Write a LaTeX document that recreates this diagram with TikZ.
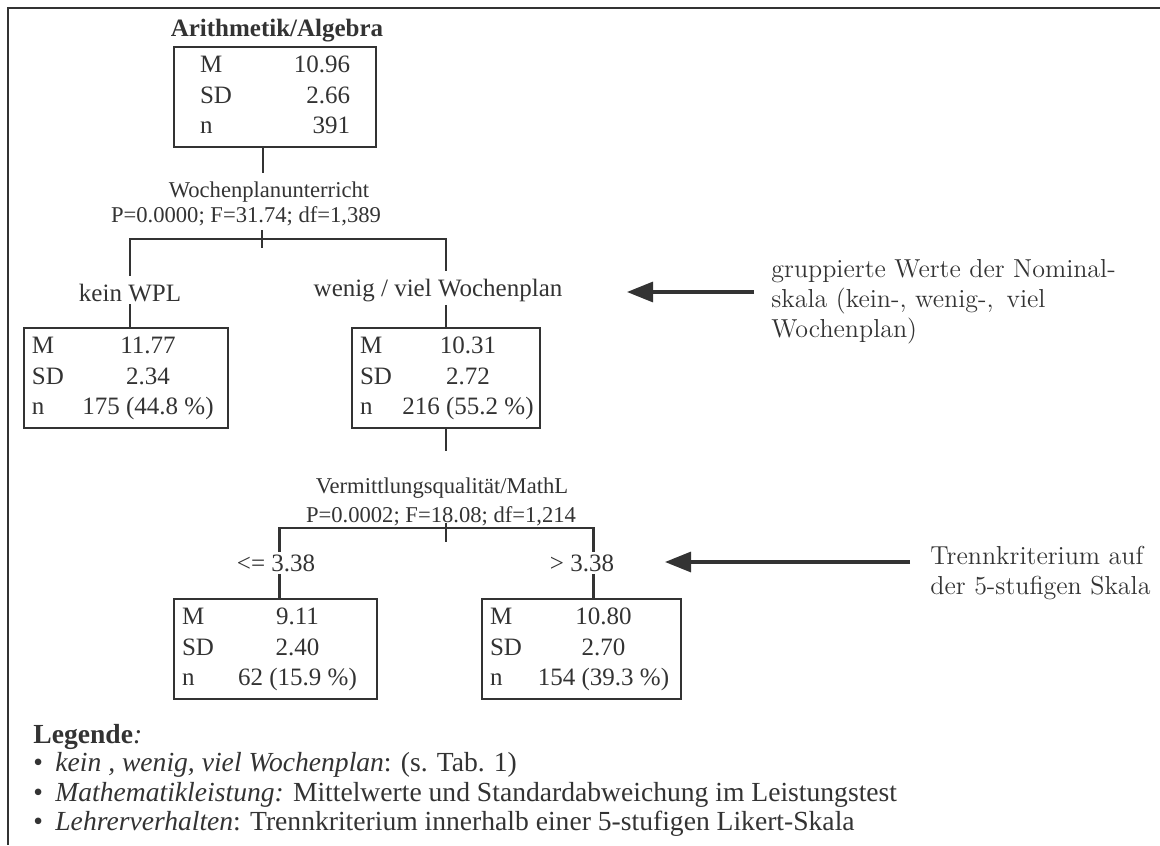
\documentclass[tikz,border=0pt]{standalone}
\usepackage{fontspec}
\setmainfont{Liberation Serif}
\newfontfamily\annfont{Latin Modern Roman}
\usepackage{array}
\usetikzlibrary{arrows.meta}

\definecolor{ink}{gray}{0.2}

% M / SD / n rows of a box
\newcommand{\stats}[5]{%
  \begin{tabular}{@{}w{l}{22pt}@{}w{#1}{#2}@{}}
  M & #3\\ SD & #4\\ n & #5
  \end{tabular}}

\tikzset{
  statbox/.style={draw=ink, line width=1.3pt, inner xsep=4pt, inner ysep=2pt, minimum height=50pt, font=\fontsize{12.5}{15.25}\selectfont},
  branch/.style={font=\fontsize{12.5}{15}\selectfont, inner sep=1pt},
  split/.style={font=\fontsize{11.3}{13}\selectfont, inner sep=1pt},
  tree/.style={draw=ink, line width=1.4pt},
  note/.style={font=\annfont\fontsize{13}{15}\selectfont, align=left, anchor=west, inner sep=0pt},
  legendrow/.style={font=\fontsize{13.8}{16}\selectfont, anchor=west, inner sep=0pt},
  pointer/.style={draw=ink, line width=1.6pt, -{Triangle[length=13pt,width=10pt]}},
}

\begin{document}
\begin{tikzpicture}[x=0.5pt, y=-0.5pt, color=ink]
\useasboundingbox (0,0) rectangle (1160,845);
\draw[line width=1pt] (1160,8) -- (8,8) -- (8,845);

% root
\node[font=\bfseries\fontsize{12.5}{15}\selectfont, inner sep=1pt] (title) at (277,31) {Arithmetik/Algebra};
\node[statbox, inner xsep=13pt] (root) at (275,97) {\stats{r}{53pt}{10.96}{2.66}{391}};

% first split
\node[split] (wpu) at (269,192) {Wochenplanunterricht};
\node[split] (wpustat) at (246,216) {P=0.0000; F=31.74; df=1,389};
\coordinate (fork1) at (262,239);
\node[branch] (kein-l) at (130,293) {kein WPL};
\node[branch] (wenig-l) at (438,291) {wenig / viel Wochenplan};
\node[statbox] (kein) at (126,378) {\stats{c}{72pt}{11.77}{2.34}{175 (44.8 \%)}};
\node[statbox] (wenig) at (446,378) {\stats{c}{64pt}{10.31}{2.72}{216 (55.2 \%)}};

\draw[tree, shorten >=3pt] ([xshift=-6pt]root.south) -- ([xshift=-6pt]root.south |- wpu.north);
\draw[tree] (fork1) ++(0,-9) -- ++(0,18);
\draw[tree, shorten <=3pt] (kein-l.north) |- (fork1) -| ([yshift=3pt]wenig.north |- wenig-l.north);
\draw[tree] (kein-l.south) -- (kein-l.south |- kein.north);
\draw[tree] (wenig.north |- wenig-l.south) -- (wenig.north);

% second split
\node[split] (vq) at (442,488) {Vermittlungsqualität/MathL};
\node[split] (vqstat) at (441,516) {P=0.0002; F=18.08; df=1,214};
\coordinate (fork2) at (446,528);
\node[branch] (le-l) at (276,563) {<= 3.38};
\node[branch] (gt-l) at (582,563) {> 3.38};
\node[statbox] (low) at (275.5,649) {\stats{c}{71.5pt}{9.11}{2.40}{62 (15.9 \%)}};
\node[statbox] (high) at (581.5,649) {\stats{c}{69.5pt}{10.80}{2.70}{154 (39.3 \%)}};

\draw[tree, shorten >=12pt] (wenig.south) -- (wenig.south |- vq.north);
\draw[tree] (fork2) ++(0,-5) -- ++(0,19);
\draw[tree] ([xshift=2pt]low.north |- le-l.north) |- (fork2) -| ([xshift=6pt]high.north |- gt-l.north);
\draw[tree] ([xshift=2pt]low.north |- le-l.south) -- ([xshift=2pt]low.north);
\draw[tree] ([xshift=6pt]high.north |- gt-l.south) -- ([xshift=6pt]high.north);

% side notes
\node[note] (note1) at (771,302) {gruppierte Werte der Nominal-\\skala (kein-, wenig-,\enspace viel\\Wochenplan)};
\coordinate (tail1) at (754,292);
\coordinate (tip1) at (627,292);
\draw[pointer] (tail1) -- (tip1);
\node[note] (note2) at (930,573.5) {Trennkriterium auf\\der 5-stufigen Skala};
\coordinate (tail2) at (910,562);
\coordinate (tip2) at (665,562);
\draw[pointer] (tail2) -- (tip2);

% legend
\node[legendrow] (legend) at (33,737) {\textbf{Legende}\textit{:}};
\node[legendrow] (leg1) at (33,765) {\makebox[11pt][l]{\textbullet}\textit{kein , wenig, viel Wochenplan}: (s. Tab. 1)};
\node[legendrow] (leg2) at (33,795) {\makebox[11pt][l]{\textbullet}\textit{Mathematikleistung:} Mittelwerte und Standardabweichung im Leistungstest};
\node[legendrow] (leg3) at (33,824) {\makebox[11pt][l]{\textbullet}\textit{Lehrerverhalten}: Trennkriterium innerhalb einer 5-stufigen Likert-Skala};
\end{tikzpicture}
\end{document}
